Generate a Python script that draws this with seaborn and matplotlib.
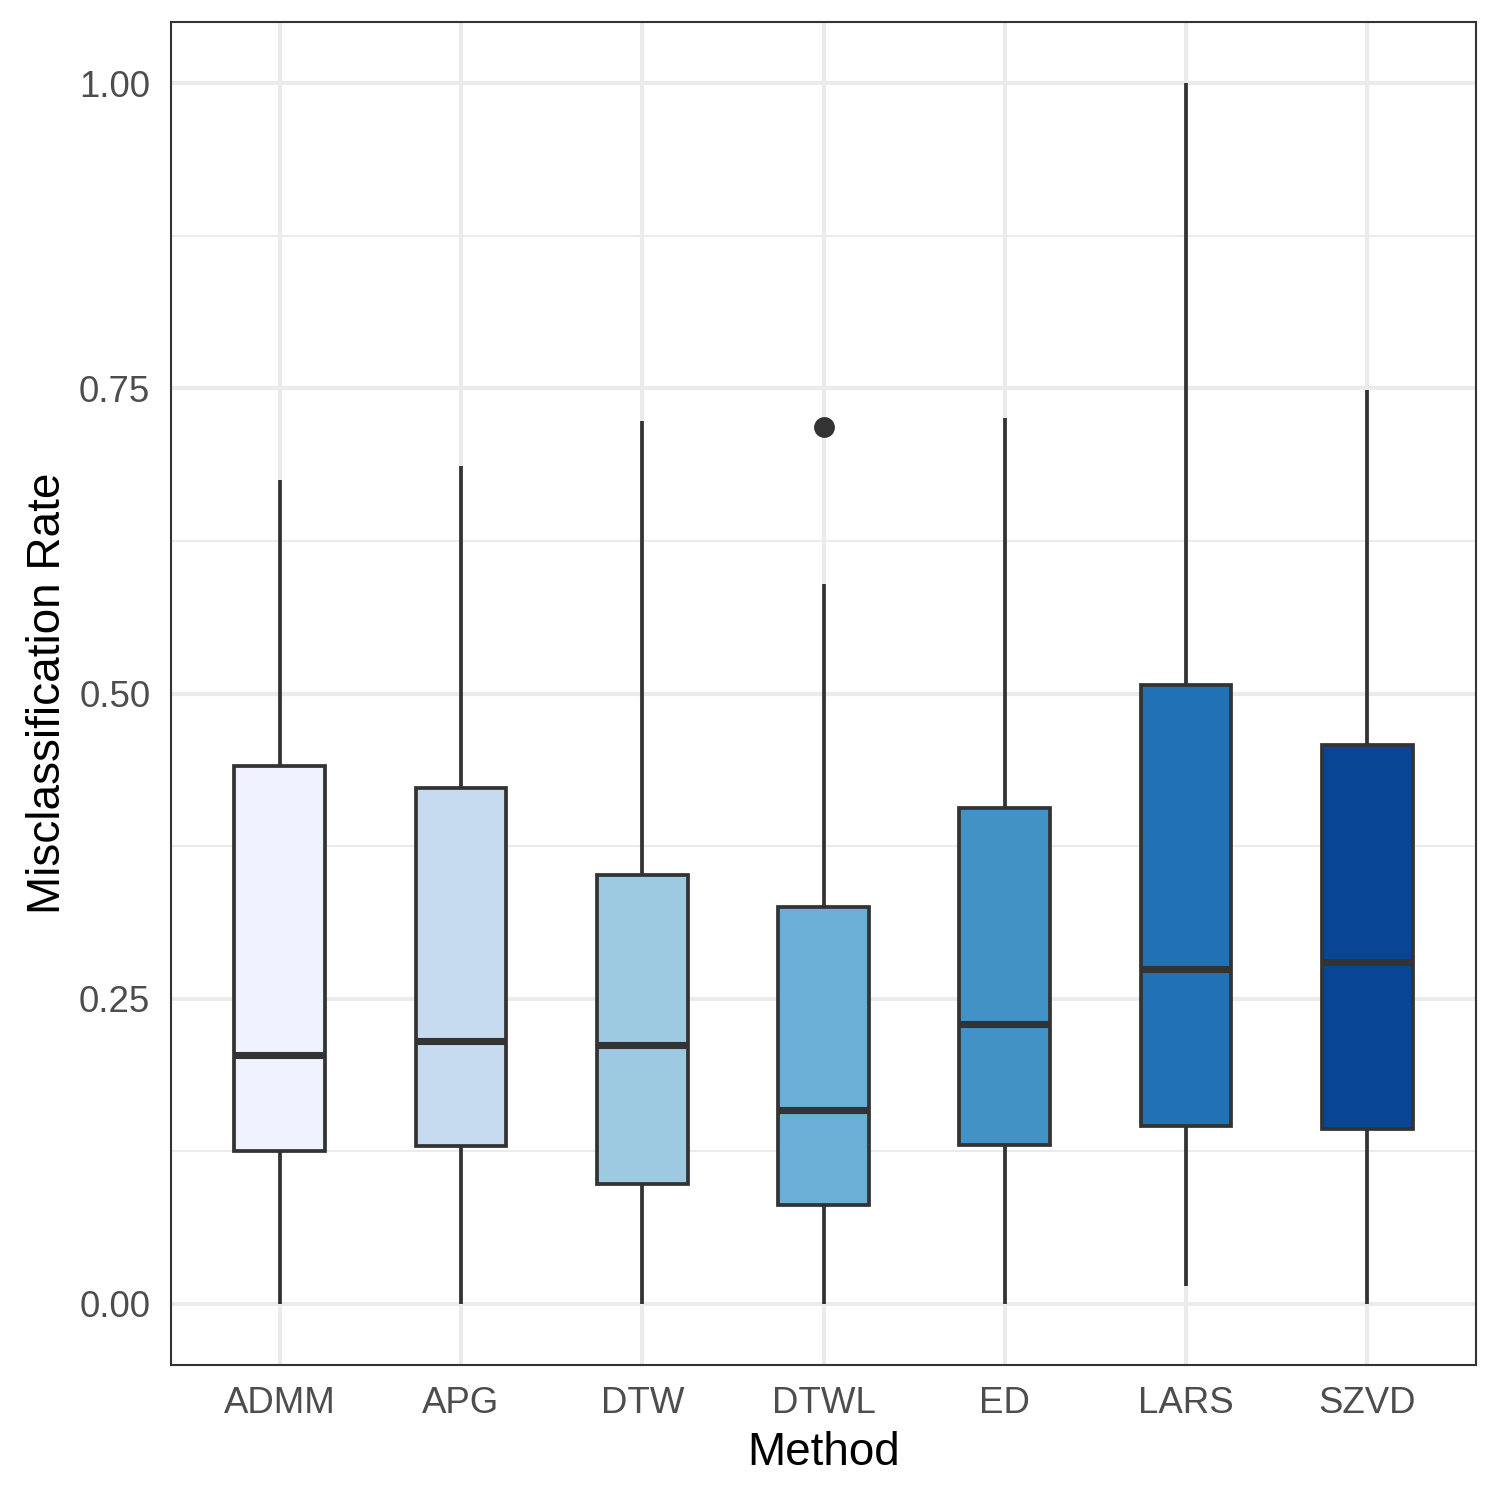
import pandas as pd
import seaborn as sns
import matplotlib.pyplot as plt
from matplotlib.ticker import MultipleLocator

# values (whisker ends, quartiles, median, outliers)
methods = ['ADMM', 'APG', 'DTW', 'DTWL', 'ED', 'LARS', 'SZVD']
admm = [0.000, 0.125, 0.204, 0.441, 0.675]
apg = [0.000, 0.129, 0.215, 0.423, 0.686]
dtw = [0.000, 0.098, 0.212, 0.351, 0.723]
dtwl = [0.000, 0.081, 0.081, 0.159, 0.159, 0.325, 0.325, 0.590, 0.718]
ed = [0.000, 0.130, 0.229, 0.406, 0.726]
lars = [0.015, 0.146, 0.274, 0.507, 1.000]
szvd = [0.000, 0.143, 0.280, 0.458, 0.749]
colors = ['#EFF3FF', '#C6DBEF', '#9ECAE1', '#6BAED6', '#4292C6', '#2171B5', '#084594']

rows = []
for m, vals in zip(methods, [admm, apg, dtw, dtwl, ed, lars, szvd]):
    for v in vals:
        rows.append({'Method': m, 'Misclassification Rate': v})
df = pd.DataFrame(rows)

sns.set_style('white')
plt.rcParams['font.family'] = ['Liberation Sans', 'DejaVu Sans']

fig = plt.figure(figsize=(5, 5), dpi=300)
ax = fig.add_axes([0.114, 0.09, 0.870, 0.8953])
sns.boxplot(data=df, x='Method', y='Misclassification Rate', hue='Method',
            palette=colors, saturation=1, legend=False, width=0.5,
            linecolor='#333333', linewidth=0.9, showcaps=False, whis=1.5,
            medianprops={'linewidth': 1.7},
            flierprops={'marker': 'o', 'markersize': 4,
                        'markerfacecolor': '#333333', 'markeredgecolor': '#333333'},
            ax=ax)

ax.set_xlim(-0.6, 6.6)
ax.set_ylim(-0.05, 1.05)
ax.set_yticks([0, 0.25, 0.5, 0.75, 1.0])
ax.set_yticklabels(['0.00', '0.25', '0.50', '0.75', '1.00'])
ax.yaxis.set_minor_locator(MultipleLocator(0.125))
ax.set_axisbelow(True)
ax.grid(which='major', color='#EBEBEB', linewidth=1.0)
ax.grid(which='minor', axis='y', color='#EBEBEB', linewidth=0.5)
ax.tick_params(which='minor', length=0)
ax.tick_params(which='major', length=2.75, width=1.0, color='#333333',
               labelsize=8.8, labelcolor='#4D4D4D', pad=2.2)
for s in ax.spines.values():
    s.set_color('#333333')
    s.set_linewidth(0.5)
ax.set_xlabel('Method', fontsize=11, color='black', labelpad=2.5)
ax.set_ylabel('Misclassification Rate', fontsize=11, color='black', labelpad=2.2)

fig.savefig('out.png', dpi=300)
